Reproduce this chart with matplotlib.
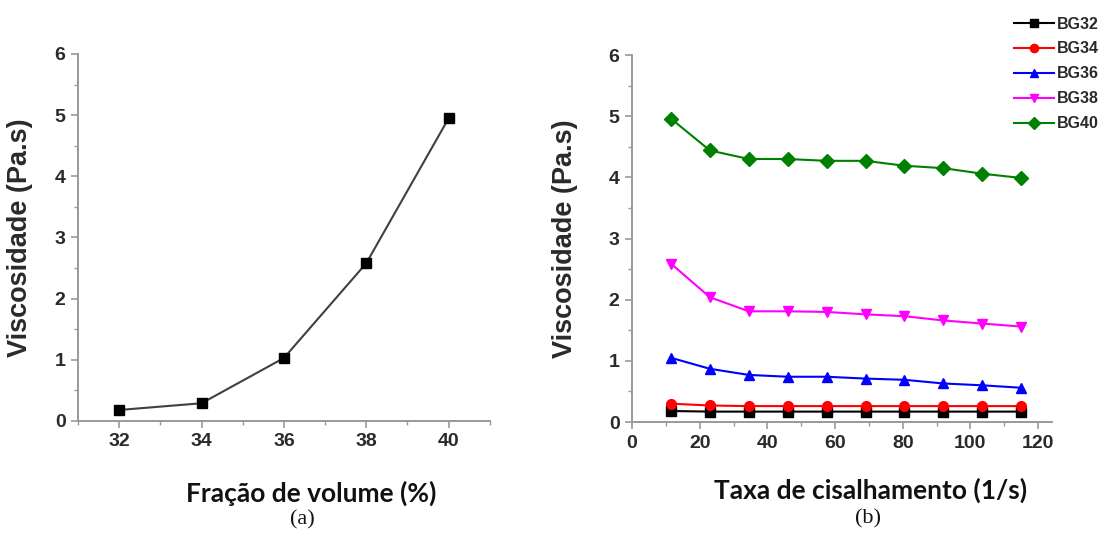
import matplotlib
matplotlib.use('Agg')
import matplotlib.pyplot as plt
import matplotlib.ticker as ticker

# (a) viscosity vs volume fraction
frac = [32, 34, 36, 38, 40]
visc_frac = [0.18, 0.29, 1.03, 2.58, 4.95]

# (b) viscosity vs shear rate
shear = [11.5, 23, 34.5, 46, 57.5, 69, 80.5, 92, 103.5, 115]
bg32 = [0.18, 0.17, 0.17, 0.17, 0.17, 0.17, 0.17, 0.17, 0.17, 0.17]
bg34 = [0.30, 0.27, 0.26, 0.26, 0.26, 0.26, 0.26, 0.26, 0.26, 0.26]
bg36 = [1.05, 0.87, 0.77, 0.74, 0.74, 0.71, 0.69, 0.63, 0.60, 0.56]
bg38 = [2.59, 2.04, 1.81, 1.81, 1.80, 1.76, 1.73, 1.66, 1.61, 1.56]
bg40 = [4.96, 4.44, 4.30, 4.30, 4.27, 4.27, 4.19, 4.15, 4.06, 3.99]

series = [('BG32', bg32, 'black', 's'),
          ('BG34', bg34, '#ff0000', 'o'),
          ('BG36', bg36, '#0000ff', '^'),
          ('BG38', bg38, '#ff00ff', 'v'),
          ('BG40', bg40, '#008000', 'D')]

plt.rcParams['font.family'] = ['Liberation Sans', 'DejaVu Sans']
plt.rcParams['font.weight'] = 'bold'
axis_col = '#999999'
text_col = '#2a2a2a'

fig = plt.figure(figsize=(11.1, 5.4), dpi=100)
ax1 = fig.add_axes([0.0703, 0.2204, 0.371, 0.6796])
ax2 = fig.add_axes([0.5694, 0.2185, 0.378, 0.6796])


def style(ax):
    for s in ['top', 'right']:
        ax.spines[s].set_visible(False)
    for s in ['left', 'bottom']:
        ax.spines[s].set_color(axis_col)
        ax.spines[s].set_linewidth(1.4)
    ax.tick_params(which='major', direction='out', length=5, width=1.2,
                   color=axis_col, labelsize=14, labelcolor=text_col, pad=4)
    ax.tick_params(which='minor', direction='out', length=3, width=1.0,
                   color=axis_col)
    ax.set_ylim(0, 6)
    ax.yaxis.set_major_locator(ticker.MultipleLocator(1))
    ax.yaxis.set_minor_locator(ticker.MultipleLocator(0.5))
    ax.set_ylabel('Viscosidade (Pa.s)', fontsize=19.5, fontweight='bold', color=text_col)


ax1.plot(frac, visc_frac, color='#404040', linewidth=1.5, marker='s',
         markersize=7, markerfacecolor='black', markeredgecolor='black')
ax1.set_xlim(31, 41)
ax1.set_xticks(frac)
ax1.xaxis.set_minor_locator(ticker.MultipleLocator(1))
style(ax1)
ax1.yaxis.set_label_coords(-0.109, 0.5)

for name, vals, col, mk in series:
    ax2.plot(shear, vals, color=col, linewidth=1.5, marker=mk, markersize=7,
             label=name)
ax2.set_xlim(0, 124)
ax2.xaxis.set_major_locator(ticker.MultipleLocator(20))
ax2.xaxis.set_minor_locator(ticker.MultipleLocator(10))
style(ax2)
ax2.yaxis.set_label_coords(-0.129, 0.5)

leg = fig.legend(loc='upper right', bbox_to_anchor=(1.0, 0.99), frameon=False,
                 fontsize=11.5, handlelength=2.45, handletextpad=0.2,
                 labelspacing=0.62, borderpad=0.2, markerscale=0.85)
for t in leg.get_texts():
    t.set_color(text_col)

xl_font = ['Lato', 'DejaVu Sans']
fig.text(311 / 1110, 1 - 493 / 540, 'Fração de volume (%)', family=xl_font,
         fontsize=19, fontweight='bold', ha='center', va='center', color='#111')
fig.text(871 / 1110, 1 - 490 / 540, 'Taxa de cisalhamento (1/s)', family=xl_font,
         fontsize=19, fontweight='bold', ha='center', va='center', color='#111')
fig.text(302 / 1110, 1 - 520 / 540, '(a)', family=['Liberation Serif'],
         fontsize=16, fontweight='normal', ha='center', va='center', color='#111')
fig.text(868 / 1110, 1 - 519 / 540, '(b)', family=['Liberation Serif'],
         fontsize=16, fontweight='normal', ha='center', va='center', color='#111')

fig.savefig('out.png', dpi=100)
